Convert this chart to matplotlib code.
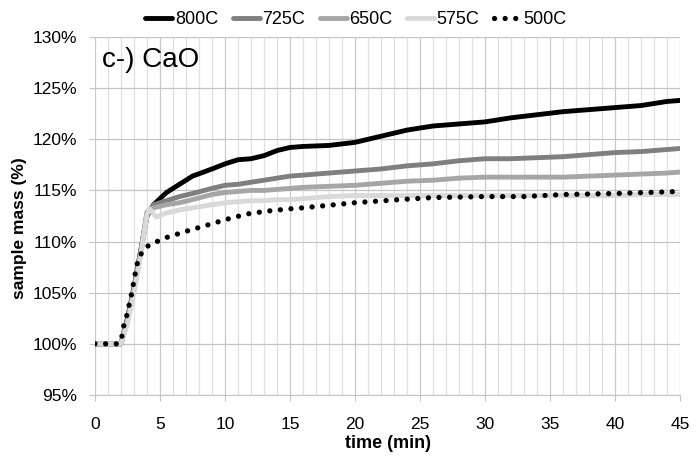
import matplotlib.pyplot as plt
from matplotlib.ticker import MultipleLocator, FuncFormatter

plt.rcParams['font.family'] = ['Liberation Sans', 'DejaVu Sans']

# time (min) and sample mass (%)
t_800 = [0, 2.0, 2.5, 3.0, 3.5, 4.0, 4.5, 5.5, 6.5, 7.5, 9, 10, 11, 12, 13, 14, 15, 16, 18,
         20, 22, 24, 26, 28, 30, 32, 34, 36, 38, 40, 42, 44, 45]
m_800 = [100, 100, 102.5, 105.5, 109, 112.5, 113.6, 114.8, 115.6, 116.4, 117.1, 117.6, 118.0,
         118.1, 118.4, 118.9, 119.2, 119.3, 119.4, 119.7, 120.3, 120.9, 121.3, 121.5, 121.7,
         122.1, 122.4, 122.7, 122.9, 123.1, 123.3, 123.7, 123.8]

t_725 = t_800
m_725 = [100, 100, 102.3, 105.3, 108.8, 112.8, 113.6, 114.0, 114.4, 114.7, 115.2, 115.5, 115.6,
         115.8, 116.0, 116.2, 116.4, 116.5, 116.7, 116.9, 117.1, 117.4, 117.6, 117.9, 118.1,
         118.1, 118.2, 118.3, 118.5, 118.7, 118.8, 119.0, 119.1]

t_650 = t_800
m_650 = [100, 100, 102.3, 105.3, 108.8, 112.9, 113.3, 113.6, 113.8, 114.1, 114.6, 114.8, 114.9,
         115.0, 115.0, 115.1, 115.2, 115.3, 115.4, 115.5, 115.7, 115.9, 116.0, 116.2, 116.3,
         116.3, 116.3, 116.3, 116.4, 116.5, 116.6, 116.7, 116.8]

t_575 = [0, 2.0, 2.5, 3.0, 3.5, 4.0, 4.2, 4.7, 5.5, 6.5, 7.5, 9, 10, 11, 12, 13, 14, 15, 16,
         18, 20, 22, 24, 26, 28, 30, 32, 34, 36, 38, 40, 42, 44, 45]
m_575 = [100, 100, 102.0, 105.0, 108.5, 112.6, 113.2, 112.4, 112.8, 113.1, 113.3, 113.6, 113.8,
         113.9, 114.0, 114.0, 114.1, 114.1, 114.2, 114.4, 114.5, 114.5, 114.5, 114.5, 114.5,
         114.5, 114.5, 114.5, 114.5, 114.5, 114.5, 114.6, 114.6, 114.6]

t_500 = [0, 1, 1.8, 2.05, 2.2, 2.45, 2.8, 3.0, 3.2, 3.4, 3.75, 4.2, 5.5, 7, 8.6, 10.2, 11.7,
         13.4, 15, 16, 20, 23.4, 26, 30, 33, 36, 40, 45]
m_500 = [100, 100, 100, 100.6, 101.7, 102.8, 104.8, 106.2, 107.6, 108.5, 109.2, 109.7, 110.4,
         111.0, 111.6, 112.2, 112.7, 113.0, 113.2, 113.3, 113.8, 114.1, 114.3, 114.4, 114.4,
         114.6, 114.7, 114.9]

fig = plt.figure(figsize=(6.97, 4.57), dpi=100)
ax = fig.add_axes([0.1363, 0.1357, 0.8393, 0.7833])

ax.plot(t_800, m_800, color='black', lw=3.5, label='800C', solid_capstyle='round')
ax.plot(t_725, m_725, color='#7f7f7f', lw=3.5, label='725C', solid_capstyle='round')
ax.plot(t_650, m_650, color='#a6a6a6', lw=3.5, label='650C', solid_capstyle='round')
ax.plot(t_575, m_575, color='#d9d9d9', lw=3.5, label='575C', solid_capstyle='round')
ax.plot(t_500, m_500, color='black', lw=3.8, linestyle=(0, (0.01, 2.0)),
        dash_capstyle='round', label='500C')

ax.set_xlim(0, 45)
ax.set_ylim(95, 130)
ax.xaxis.set_major_locator(MultipleLocator(5))
ax.xaxis.set_minor_locator(MultipleLocator(1))
ax.yaxis.set_major_locator(MultipleLocator(5))
ax.yaxis.set_major_formatter(FuncFormatter(lambda v, p: f'{v:.0f}%'))

ax.grid(True, which='major', axis='x', color='#c8c8c8', lw=0.9)
ax.grid(True, which='minor', axis='x', color='#e0e0e0', lw=0.9)
ax.grid(True, which='major', axis='y', color='#c4c4c4', lw=0.9)
ax.set_axisbelow(True)

for s in ['top', 'right', 'left']:
    ax.spines[s].set_visible(False)
ax.spines['bottom'].set_color('#c4c4c4')
ax.tick_params(axis='both', which='major', labelsize=12.5, color='#c4c4c4', length=4)
ax.tick_params(axis='x', which='major', pad=12)
ax.tick_params(axis='y', which='major', pad=9)
ax.tick_params(axis='x', which='minor', length=0)

ax.text(0.012, 0.935, 'c-) CaO', transform=ax.transAxes, fontsize=20, va='center', ha='left')

fig.text(20 / 697, 1 - 228 / 457, 'sample mass (%)', rotation=90, fontsize=12.5,
         fontweight='bold', ha='center', va='center')
fig.text(388 / 697, 1 - 443 / 457, 'time (min)', fontsize=13, fontweight='bold',
         ha='center', va='center')

fig.legend(loc='center', bbox_to_anchor=(356 / 697, 1 - 20 / 457), ncol=5, frameon=False,
           fontsize=13, handlelength=1.5, handletextpad=0.15, columnspacing=0.8)

fig.savefig('out.png', dpi=100)
